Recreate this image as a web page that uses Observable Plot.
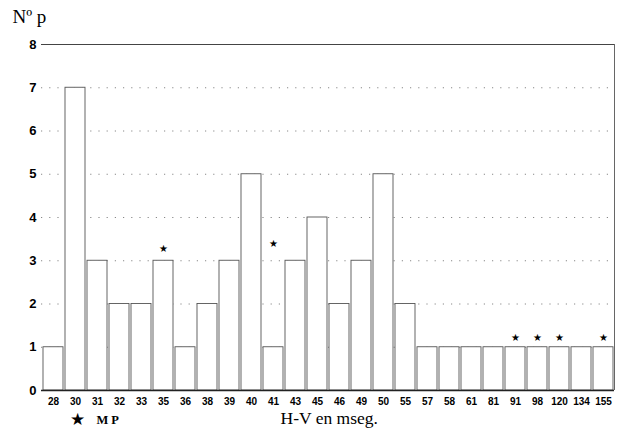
<!DOCTYPE html>
<html>
<head>
<meta charset="utf-8">
<script src="https://cdn.jsdelivr.net/npm/d3@7"></script>
<script src="https://cdn.jsdelivr.net/npm/@observablehq/plot@0.6"></script>
<style>
  html, body { margin: 0; padding: 0; background: #fff; }
  svg { display: block; }
</style>
</head>
<body>
<div id="chart"></div>
<script>
const categories = ["28","30","31","32","33","35","36","38","39","40","41","43","45","46","49","50","55","57","58","61","81","91","98","120","134","155"];
const counts     = [1, 7, 3, 2, 2, 3, 1, 2, 3, 5, 1, 3, 4, 2, 3, 5, 2, 1, 1, 1, 1, 1, 1, 1, 1, 1];
const starCats   = ["35", "41", "91", "98", "120", "155"];
const starLevels = [3.27, 3.4, 1.22, 1.22, 1.22, 1.22];
const yTicks     = [0, 1, 2, 3, 4, 5, 6, 7, 8];

const bars = categories.map((c, i) => ({cat: c, n: counts[i]}));
const stars = starCats.map((c, i) => ({cat: c, y: starLevels[i]}));

const serif = "Liberation Serif, Times New Roman, serif";
const sans = "Liberation Sans, Arial, sans-serif";

const chart = Plot.plot({
  width: 628,
  height: 433,
  marginLeft: 41,
  marginRight: 14,
  marginTop: 44,
  marginBottom: 43,
  style: {background: "#fff", color: "#000"},
  x: {domain: categories, padding: 0, label: null},
  y: {domain: [0, 8], ticks: yTicks, label: null},
  marks: [
    Plot.ruleY([1, 2, 3, 4, 5, 6, 7], {stroke: "#888", strokeWidth: 1, strokeDasharray: "1.2,7"}),
    Plot.ruleY([8], {stroke: "#444", strokeWidth: 1}),
    Plot.barY(bars, {x: "cat", y: "n", fill: "#fff", stroke: "#555", strokeWidth: 0.9, insetLeft: 1, insetRight: 1}),
    Plot.ruleY([0], {stroke: "#222", strokeWidth: 1.6}),
    Plot.ruleX([categories[categories.length - 1]], {y1: 0, y2: 8, stroke: "#666", strokeWidth: 1, dx: 11}),
    Plot.text(stars, {x: "cat", y: "y", text: () => "★", fontSize: 10, fill: "#000"}),
    Plot.axisY({ticks: yTicks, tickSize: 0, tickPadding: 5, fontSize: 13, fontWeight: "bold", fontFamily: sans, label: null}),
    Plot.axisX({tickSize: 0, tickPadding: 7, fontSize: 10, fontWeight: "bold", fontFamily: sans, label: null}),
    Plot.text(["Nº p"], {frameAnchor: "top-left", dx: -29, dy: -35, fontSize: 19, fontFamily: serif, textAnchor: "start", fill: "#000"}),
    Plot.text(["H-V en mseg."], {frameAnchor: "bottom-left", dx: 239, dy: 33, fontSize: 17.5, fontFamily: serif, textAnchor: "start", fill: "#000"}),
    Plot.text(["★"], {frameAnchor: "bottom-left", dx: 36, dy: 34, fontSize: 17, textAnchor: "middle", fill: "#000"}),
    Plot.text(["MP"], {frameAnchor: "bottom-left", dx: 55, dy: 33, fontSize: 12.5, fontWeight: "bold", fontFamily: serif, textAnchor: "start", fill: "#000"})
  ]
});
d3.select(chart).selectAll("text").filter(function() { return this.textContent === "MP"; })
  .style("letter-spacing", "3px");
document.getElementById("chart").appendChild(chart);
</script>
</body>
</html>
